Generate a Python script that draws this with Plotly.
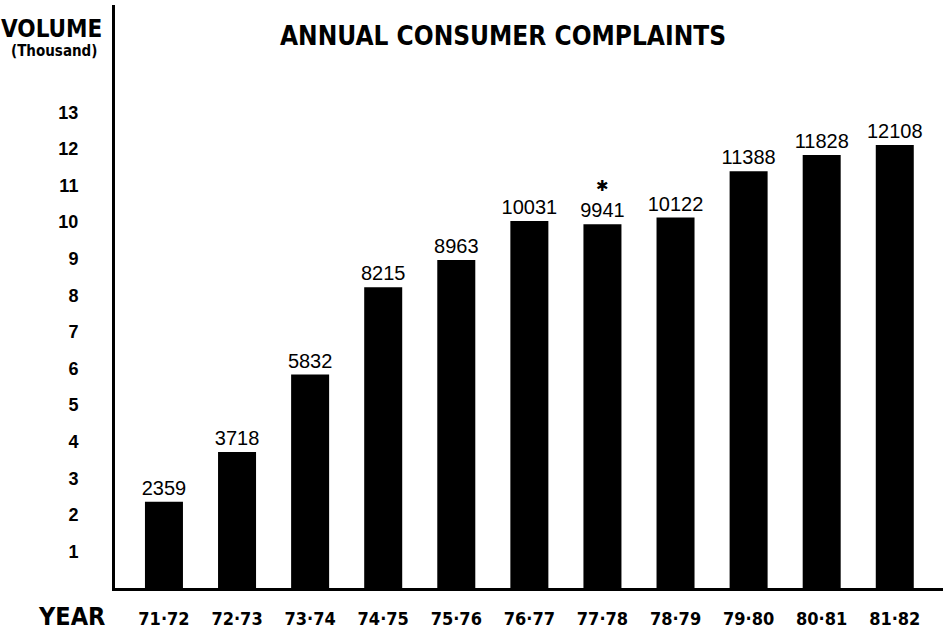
import plotly.graph_objects as go

years = ["71·72", "72·73", "73·74", "74·75", "75·76", "76·77", "77·78", "78·79", "79·80", "80·81", "81·82"]
complaints = [2359, 3718, 5832, 8215, 8963, 10031, 9941, 10122, 11388, 11828, 12108]
y_ticks = list(range(1, 14))
flagged_year = "77·78"

NARROW = "DejaVu Sans Condensed, Liberation Sans Narrow, sans-serif"
SANS = "Liberation Sans, Arial, sans-serif"

W, H = 943, 644
L, R, T, B = 115, 0, 5, 56
pw, ph = W - L - R, H - T - B

def px(x):
    return (x - L) / pw

def py(y):
    return (H - B - y) / ph

vals_k = [v / 1000 for v in complaints]

fig = go.Figure(go.Bar(
    x=years, y=vals_k,
    marker=dict(color="black", line=dict(width=0)),
    width=0.52,
    text=[str(v) for v in complaints],
    textposition="outside",
    constraintext="none",
    textfont=dict(family=SANS, size=20, color="black"),
    cliponaxis=False,
))

fig.update_layout(
    width=W, height=H,
    margin=dict(l=L, r=R, t=T, b=B),
    paper_bgcolor="white", plot_bgcolor="white",
    showlegend=False,
)

fig.update_xaxes(
    type="category",
    range=[-0.67, 10.66],
    showline=True, linecolor="black", linewidth=3,
    showgrid=False, zeroline=False,
    ticks="", ticklabelstandoff=12,
    tickfont=dict(family=NARROW, size=18, color="black", weight="bold"),
)
fig.update_yaxes(
    range=[0, 15.93],
    showline=True, linecolor="black", linewidth=3,
    showgrid=False, zeroline=False,
    tickmode="array", tickvals=y_ticks, ticktext=[str(t) for t in y_ticks],
    ticks="", ticklabelstandoff=30,
    tickfont=dict(family=SANS, size=18, color="black", weight="bold"),
)

anns = [
    dict(text="VOLUME", x=px(52), y=py(29), font=dict(family=NARROW, size=24, weight="bold")),
    dict(text="(Thousand)", x=px(54), y=py(51), font=dict(family=NARROW, size=15, weight="bold")),
    dict(text="ANNUAL CONSUMER COMPLAINTS", x=px(503), y=py(36), font=dict(family=NARROW, size=26, weight="bold")),
    dict(text="YEAR", x=px(71), y=py(616), font=dict(family=NARROW, size=25, weight="bold")),
]
for a in anns:
    a.update(xref="paper", yref="paper", showarrow=False, xanchor="center", yanchor="middle")
    a["font"]["color"] = "black"
    fig.add_annotation(**a)

idx = years.index(flagged_year)
fig.add_annotation(
    x=years[idx], y=vals_k[idx], xref="x", yref="y",
    text="✱", showarrow=False, yanchor="bottom", yshift=27,
    font=dict(family="DejaVu Sans", size=15, color="black"),
)

fig.write_html("out.html")
